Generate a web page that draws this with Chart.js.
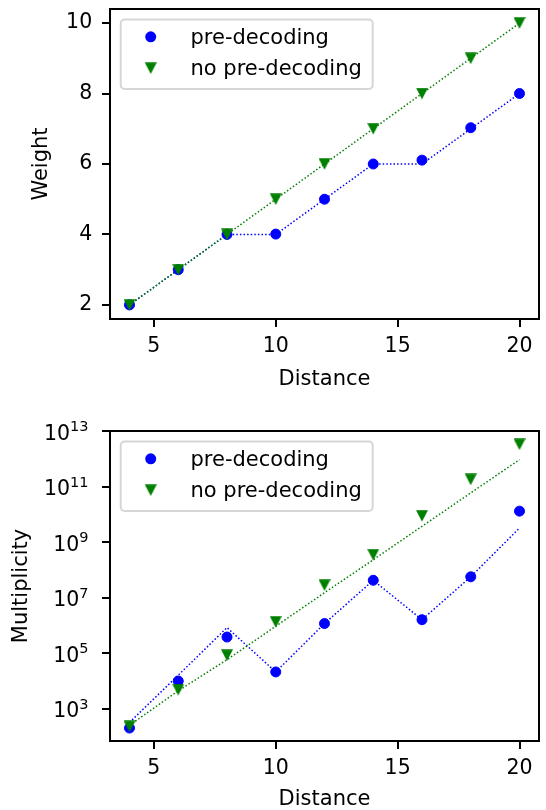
<!DOCTYPE html>
<html><head><meta charset="utf-8">
<script src="https://cdn.jsdelivr.net/npm/chart.js@4"></script>
<style>
html,body{margin:0;padding:0;background:#fff;}
#wrap{position:relative;width:546px;height:810px;background:#fff;}
canvas{position:absolute;left:0;}
</style></head><body>
<div id="wrap">
<canvas id="c1" width="546" height="405" style="top:0px"></canvas>
<canvas id="c2" width="546" height="405" style="top:405px"></canvas>
</div>
<script>
// ---- data ----
const distance = [4, 6, 8, 10, 12, 14, 16, 18, 20];
const seriesNames = ['pre-decoding', 'no pre-decoding'];

// Weight (top panel)
const weightPre      = [2, 3, 4, 4.01, 5, 6, 6.11, 7.03, 8];
const weightPreLine  = [2, 3, 4, 4, 5, 6, 6, 7, 8];
const weightNo       = [2, 3, 4, 5, 6, 7, 8, 9, 10];
const weightNoLine   = [2, 3, 4, 5, 6, 7, 8, 9, 10];

// Multiplicity (bottom panel)
const multPre     = [200, 9.9e3, 3.8e5, 2.1e4, 1.16e6, 4.2e7, 1.6e6, 5.6e7, 1.3e10];
const multPreLine = [320, 1.6e4, 8.3e5, 2.1e4, 1.16e6, 4.2e7, 1.6e6, 5.6e7, 3.2e9];
const multNo      = [230, 4.8e3, 8.4e4, 1.33e6, 2.8e7, 3.5e8, 8.8e9, 1.8e11, 3.3e12];
const multNoLine  = [250, 4.4e3, 5.8e4, 9.3e5, 1.5e7, 2.3e8, 3.7e9, 5.9e10, 9.3e11];

// ticks
const xTicks = [5, 10, 15, 20];
const weightTicks = [2, 4, 6, 8, 10];
const multTicks = [1e3, 1e5, 1e7, 1e9, 1e11, 1e13];
const multTickBase = '10';
const multTickExp = ['3', '5', '7', '9', '11', '13'];

// ---- styling ----
const BLUE = '#0000ff', GREEN = '#008000';
const FAMILY = "'DejaVu Sans', sans-serif";
Chart.defaults.font.family = FAMILY;
Chart.defaults.font.size = 20.5;
Chart.defaults.color = '#000';

function makeTriangle() {
  const c = document.createElement('canvas');
  c.width = 12; c.height = 12;
  const g = c.getContext('2d');
  g.fillStyle = GREEN;
  g.beginPath(); g.moveTo(0, 0.3); g.lineTo(12, 0.3); g.lineTo(6, 11.8); g.closePath(); g.fill();
  return c;
}
const triImg = makeTriangle();

const pts = arr => distance.map((d, i) => ({x: d, y: arr[i]}));

function makeSets(pre, preLine, no, noLine) {
  return [
    {label: seriesNames[0], data: pts(pre), showLine: false, pointStyle: 'circle', pointRadius: 5, pointBorderWidth: 1,
     pointBackgroundColor: BLUE, pointBorderColor: BLUE, order: 1},
    {label: seriesNames[1], data: pts(no), showLine: false, pointStyle: triImg, pointRadius: 6, order: 0},
    {label: '', data: pts(preLine), borderColor: BLUE, borderWidth: 1.5, borderDash: [1.5, 2.1], pointRadius: 0, fill: false, order: 3},
    {label: '', data: pts(noLine), borderColor: GREEN, borderWidth: 1.5, borderDash: [1.5, 2.1], pointRadius: 0, fill: false, order: 2}
  ];
}

const framePlugin = {
  id: 'frameLegend',
  afterDraw(chart) {
    const {ctx, chartArea: a} = chart;
    ctx.save();
    // top and right spines
    ctx.strokeStyle = '#000'; ctx.lineWidth = 2;
    ctx.beginPath(); ctx.moveTo(a.left - 1, a.top); ctx.lineTo(a.right, a.top); ctx.lineTo(a.right, a.bottom + 1); ctx.stroke();
    // legend
    const bx = a.left + 10.7, by = a.top + 10.5, bw = 252, bh = 69.5, r = 4;
    ctx.beginPath();
    ctx.moveTo(bx + r, by); ctx.lineTo(bx + bw - r, by); ctx.arcTo(bx + bw, by, bx + bw, by + r, r);
    ctx.lineTo(bx + bw, by + bh - r); ctx.arcTo(bx + bw, by + bh, bx + bw - r, by + bh, r);
    ctx.lineTo(bx + r, by + bh); ctx.arcTo(bx, by + bh, bx, by + bh - r, r);
    ctx.lineTo(bx, by + r); ctx.arcTo(bx, by, bx + r, by, r); ctx.closePath();
    ctx.fillStyle = 'rgba(255,255,255,0.8)'; ctx.fill();
    ctx.strokeStyle = '#d6d6d6'; ctx.lineWidth = 2; ctx.stroke();
    const rows = [a.top + 27.8, a.top + 59.2];
    const mx = a.left + 40.7, tx = a.left + 80.5;
    ctx.font = "21px " + FAMILY;
    ctx.textBaseline = 'alphabetic'; ctx.textAlign = 'left';
    ctx.beginPath(); ctx.arc(mx, rows[0], 5.5, 0, Math.PI * 2); ctx.fillStyle = BLUE; ctx.fill();
    ctx.fillStyle = '#000'; ctx.fillText(chart.data.datasets[0].label, tx, rows[0] + 7);
    ctx.drawImage(triImg, mx - 6, rows[1] - 6);
    ctx.fillText(chart.data.datasets[1].label, tx, rows[1] + 7);
    ctx.restore();
  }
};

// draws "10" with a raised exponent for the log axis tick labels
const powerLabels = {
  id: 'powerLabels',
  afterDraw(chart) {
    const s = chart.scales.y;
    if (s.type !== 'logarithmic') return;
    const {ctx} = chart;
    ctx.save();
    ctx.fillStyle = '#000'; ctx.textAlign = 'right'; ctx.textBaseline = 'alphabetic';
    const R = 88.5;
    multTicks.forEach((v, i) => {
      const y = s.getPixelForValue(v);
      ctx.font = "14.5px " + FAMILY;
      const ew = ctx.measureText(multTickExp[i]).width;
      ctx.fillText(multTickExp[i], R, y + 0.3);
      ctx.font = "20.5px " + FAMILY;
      ctx.fillText(multTickBase, R - ew, y + 8.6);
    });
    ctx.restore();
  }
};

function baseOptions(cfg) {
  return {
    responsive: false, animation: false, events: [],
    layout: {padding: {left: 0, right: 2, top: cfg.top, bottom: 0}},
    plugins: {legend: {display: false}, tooltip: {enabled: false}},
    scales: {
      x: {
        type: 'linear', min: 3.2, max: 20.8,
        afterBuildTicks: s => { s.ticks = xTicks.map(v => ({value: v})); },
        afterFit: s => { s.height = cfg.xh; s.paddingLeft = 0; s.paddingRight = 0; },
        grid: {display: true, drawOnChartArea: false, drawTicks: true, tickLength: 8, tickWidth: 2, tickColor: '#000', color: '#000', lineWidth: 2},
        border: {display: true, color: '#000', width: 2},
        ticks: {padding: 7.8, maxRotation: 0, autoSkip: false, callback: v => String(v)},
        title: {display: true, text: 'Distance', font: {size: 21, lineHeight: 1}, padding: {top: 0, bottom: cfg.xtp}}
      },
      y: cfg.y
    }
  };
}

// top chart
new Chart(document.getElementById('c1'), {
  type: 'line',
  data: {datasets: makeSets(weightPre, weightPreLine, weightNo, weightNoLine)},
  options: baseOptions({
    top: 9, xh: 86, xtp: 15.3,
    y: {
      type: 'linear', min: 1.6, max: 10.4,
      afterBuildTicks: s => { s.ticks = weightTicks.map(v => ({value: v})); },
      afterFit: s => { s.width = 110; s.paddingTop = 0; s.paddingBottom = 0; },
      grid: {display: true, drawOnChartArea: false, drawTicks: true, tickLength: 8, tickWidth: 2, tickColor: '#000', color: '#000', lineWidth: 2},
      border: {display: true, color: '#000', width: 2},
      ticks: {padding: 9.8, autoSkip: false, callback: v => String(v)},
      title: {display: true, text: 'Weight', font: {size: 21, lineHeight: 1}, padding: {top: 31.5, bottom: 0}}
    }
  }),
  plugins: [framePlugin]
});

// bottom chart
new Chart(document.getElementById('c2'), {
  type: 'line',
  data: {datasets: makeSets(multPre, multPreLine, multNo, multNoLine)},
  options: baseOptions({
    top: 26, xh: 69, xtp: 0.3,
    y: {
      type: 'logarithmic', min: 68.4, max: 1e13, bounds: 'data',
      afterBuildTicks: s => { s.ticks = multTicks.map(v => ({value: v})); },
      afterFit: s => { s.width = 110; s.paddingTop = 0; s.paddingBottom = 0; },
      grid: {display: true, drawOnChartArea: false, drawTicks: true, tickLength: 8, tickWidth: 2, tickColor: '#000', color: '#000', lineWidth: 2},
      border: {display: true, color: '#000', width: 2},
      ticks: {padding: 9.8, autoSkip: false, callback: () => ''},
      title: {display: true, text: 'Multiplicity', font: {size: 21, lineHeight: 1}, padding: {top: 10.9, bottom: 0}}
    }
  }),
  plugins: [framePlugin, powerLabels]
});
</script>
</body></html>
